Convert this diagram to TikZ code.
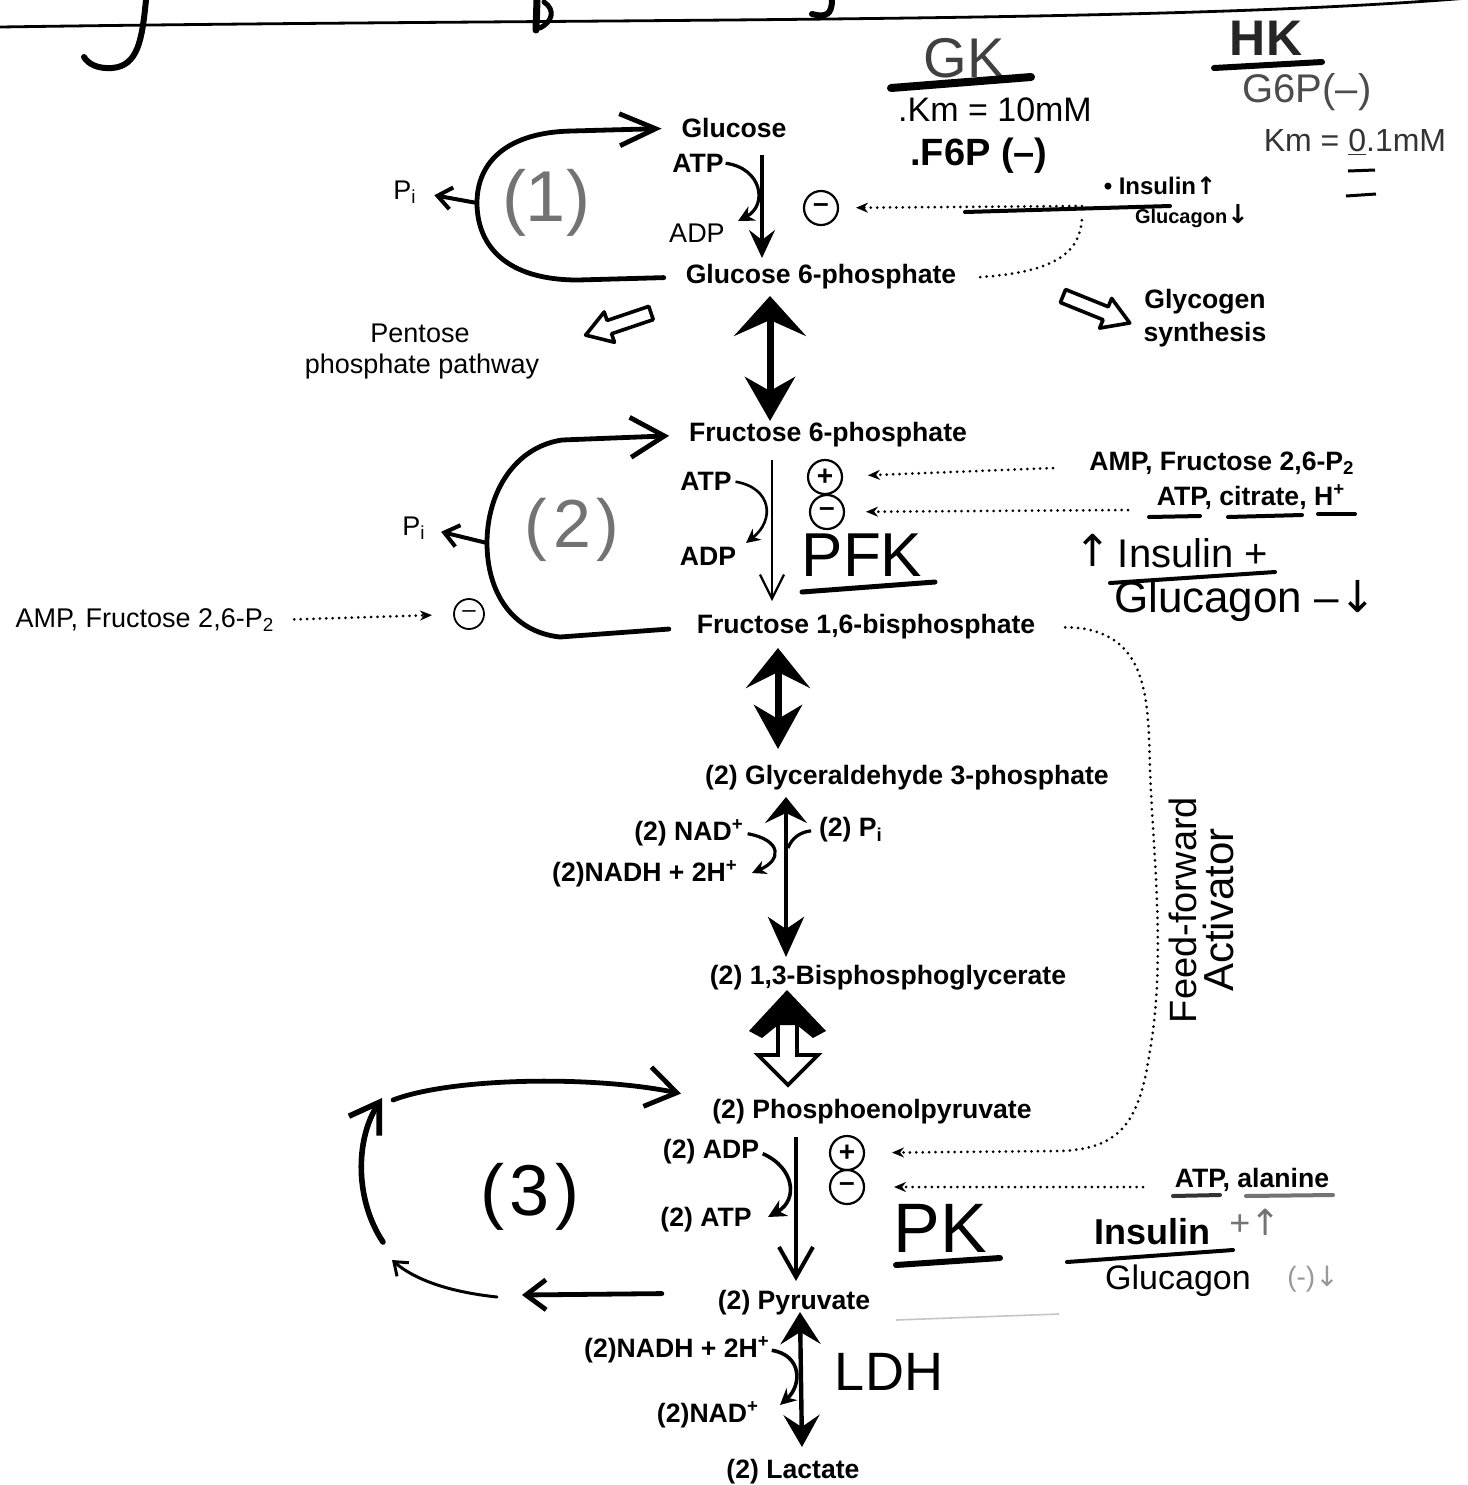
\documentclass[tikz,border=0pt]{standalone}
\usepackage{fontspec}
\setmainfont{Liberation Sans}
\newfontfamily\dejavu{DejaVu Sans}
\usetikzlibrary{arrows.meta}
\begin{document}
\begin{tikzpicture}[x=0.5pt,y=-0.5pt,
  every node/.style={inner sep=0pt, outer sep=0pt},
  lab/.style={font=\fontsize{13.3}{15}\selectfont\bfseries},
  labr/.style={font=\fontsize{13.5}{15}\selectfont},
  hand/.style={font=\fontsize{#1}{#1}\selectfont},
  handb/.style={font=\fontsize{#1}{#1}\selectfont\bfseries},
  circ/.style={circle, draw, line width=1.1pt, minimum size=17pt, inner sep=0pt, font=\fontsize{14}{14}\selectfont\bfseries},
  dotline/.style={line width=1.5pt, dash pattern=on 0pt off 3.2pt, line cap=round},
  dottip/.style={-{Stealth[length=6pt,width=5pt]}},
  loopline/.style={line width=2.4pt, line cap=round},
  bigdbl/.style={line width=3.5pt},
  hollow/.style={line width=1.8pt, fill=white, line join=round},
  uline/.style={line width=2pt, line cap=round},
]
\fill[white] (0,0) rectangle (1468,1485);
\useasboundingbox (0,0) rectangle (1468,1485);

% ---- top rule and cut-off title strokes
\draw[line width=1.4pt] (0,27) .. controls (600,18) and (1150,24) .. (1468,-2);
\draw[line width=3pt, line cap=round] (146,0) .. controls (142,40) and (138,66) .. (112,68) .. controls (98,69) and (88,64) .. (84,57);
\draw[line width=3.5pt, line cap=round] (537,0) -- (536,30);
\draw[line width=2.5pt, line cap=round] (544,2) .. controls (556,10) and (552,22) .. (540,28);
\draw[line width=3pt, line cap=round] (832,0) .. controls (832,14) and (826,18) .. (812,14);

% ---- GK / HK annotations
\node[hand=28, text=black!75] (gk) at (964,58) {GK};
\draw[line width=4pt, line cap=round] (891,88) -- (1031,77);
\node[handb=25, text=black!85] (hk) at (1266,38) {HK};
\draw[line width=3pt, line cap=round] (1214,68) -- (1322,62);
\node[hand=20, text=black!70] (g6pn) at (1307,92) {G6P(–)};
\node[hand=17] (km10) at (995,110) {.Km = 10mM};
\node[handb=19] (f6pn) at (979,156) {.F6P (–)};
\node[hand=16, text=black!80] (km01) at (1355,142) {Km = \underline{0}.1mM};
\draw[line width=1.5pt] (1348,171) -- (1375,170);
\draw[line width=1.5pt] (1346,196) -- (1376,194);
\node[handb=12] (ins1) at (1160,186) {• Insulin{\dejavu↑}};
\draw[uline] (965,212) -- (1170,206);
\node[handb=10] (glu1) at (1192,216) {Glucagon{\dejavu\fontsize{13}{13}\selectfont↓}};

% ---- step 1
\node[lab] (glc) at (734,128) {Glucose};
\node[lab] (atp1) at (698,163) {ATP};
\node[labr] (adp1) at (697,233) {ADP};
\node[lab] (g6p) at (821,277) {Glucose 6-phosphate};
\coordinate (a1s) at (762,155);
\coordinate (a1e) at (762,258);
\draw[line width=1.8pt, -{Stealth[length=14pt,width=13pt,inset=5pt]}] (a1s) -- (a1e);
\draw[line width=1.6pt, -{Stealth[length=8pt,width=8pt]}, shorten <=1pt] (atp1.east) .. controls (762,168) and (768,205) .. (738,221);
\node[circ] (m1) at (821,208) {–};
\coordinate (d1s) at (1082,206);
\draw[dotline, dottip, shorten >=9pt] (d1s) -- (m1);
\draw[dotline] ([xshift=12pt]g6p.east) .. controls (1060,272) and (1082,250) .. (1082,214);

\draw[loopline, shorten <=11pt, shorten >=10pt, -{Straight Barb[length=18pt,width=16pt]}] (g6p.west) -- (578,280) .. controls (505,280) and (478,245) .. (477,205) .. controls (476,160) and (510,132) .. (572,131) -- (glc.west);
\node[labr] (pi1) at (405,192) {P\textsubscript{i}};
\coordinate (pi1s) at (477,203);
\draw[line width=2pt, shorten >=9pt, -{Straight Barb[length=7pt,width=11pt]}] (pi1s) -- (pi1.east);
\node[hand=36, text=black!55] (n1) at (546,203) {(1)};

% pentose / glycogen outlets
\node[labr] (ppp1) at (420,333) {Pentose};
\node[labr] (ppp2) at (422,367) {phosphate pathway};
\begin{scope}[shift={(651,313)}, rotate=198.7]
  \draw[hollow] (0,-7) -- (44,-7) -- (44,-16) -- (69,0) -- (44,16) -- (44,7) -- (0,7) -- cycle;
\end{scope}
\node[lab] (gly1) at (1205,302) {Glycogen};
\node[lab] (gly2) at (1205,335) {synthesis};
\begin{scope}[shift={(1063,296)}, rotate=-22]
  \draw[hollow] (0,-7) -- (46,-7) -- (46,-16) -- (72,0) -- (46,16) -- (46,7) -- (0,7) -- cycle;
\end{scope}

% G6P <-> F6P
\coordinate (da1t) at (770,296);
\coordinate (da1b) at (770,421);
\draw[bigdbl, {Stealth[length=20pt,width=36pt,inset=8pt]}-{Stealth[length=22pt,width=25pt,inset=7pt]}] (da1t) -- (da1b);

% ---- step 2
\node[lab] (f6p) at (828,435) {Fructose 6-phosphate};
\node[lab] (atp2) at (706,481) {ATP};
\node[lab] (adp2) at (708,556) {ADP};
\coordinate (a2s) at (772,460);
\coordinate (a2e) at (772,601);
\draw[line width=1.1pt, -{Straight Barb[length=12pt,width=12pt]}] (a2s) -- (a2e);
\draw[line width=1.3pt, -{Stealth[length=7pt,width=7pt]}, shorten <=2pt] (atp2.east) .. controls (772,488) and (775,520) .. (746,543);
\node[circ] (p2) at (825,477) {+};
\node[circ] (m2) at (827,512) {–};
\node[lab] (amp1) at (1222,463) {AMP, Fructose 2,6-P\textsubscript{2}};
\node[lab] (atpc) at (1251,497) {ATP, citrate, H\textsuperscript{+}};
\draw[uline] (1149,517) -- (1200,516);
\draw[uline] (1228,517) -- (1302,515);
\draw[uline] (1318,514) -- (1355,514);
\coordinate (d2s) at (1053,468);
\coordinate (d3s) at (1128,510);
\draw[dotline, dottip, shorten >=13pt] (d2s) -- (p2);
\draw[dotline, dottip, shorten >=11pt] (d3s) -- (m2);
\node[hand=22] (up2) at (1093,550) {\dejavu↑};
\node[hand=20] (ins2) at (1193,553) {Insulin +};
\draw[uline] (1110,583) -- (1275,572);
\node[hand=22] (glu2) at (1245,601) {Glucagon –{\dejavu↓}};
\node[hand=31] (pfk) at (862,555) {PFK};
\draw[line width=2.5pt, line cap=round] (802,592) -- (935,582);

\node[labr] (amp2) at (145,620) {AMP, Fructose 2,6-P\textsubscript{2}};
\node[circ, line width=0.9pt, minimum size=15pt, font=\fontsize{12}{12}\selectfont] (m3) at (469,614) {–};
\draw[dotline, dottip, shorten <=10pt, shorten >=11pt] (amp2.east) -- (m3);

\node[lab] (f16) at (866,627) {Fructose 1,6-bisphosphate};
\draw[loopline, shorten <=14pt, shorten >=10pt, -{Straight Barb[length=17pt,width=20pt]}] (f16.west) -- (560,637) .. controls (512,632) and (487,592) .. (487,543) .. controls (487,492) and (515,447) .. (562,440) -- (f6p.west);
\node[labr] (pi2) at (414,528) {P\textsubscript{i}};
\coordinate (pi2s) at (487,543);
\draw[line width=2pt, shorten >=8pt, -{Straight Barb[length=7pt,width=11pt]}] (pi2s) -- (pi2.east);
\node[hand=34, text=black!55] (n2) at (572,530) {(\kern3pt2\kern3pt)};

% F16BP <-> G3P
\coordinate (da2t) at (778,648);
\coordinate (da2b) at (778,749);
\draw[bigdbl, {Stealth[length=20pt,width=32pt,inset=8pt]}-{Stealth[length=22pt,width=24pt,inset=7pt]}] (da2t) -- (da2b);

% ---- G3P -> 1,3-BPG
\node[lab] (g3p) at (907,778) {(2) Glyceraldehyde 3-phosphate};
\node[lab] (nad1) at (689,833) {(2) NAD\textsuperscript{+}};
\node[lab] (pi3) at (851,830) {(2) P\textsubscript{i}};
\node[lab] (nadh1) at (645,874) {(2)NADH + 2H\textsuperscript{+}};
\coordinate (da3t) at (786,797);
\coordinate (da3b) at (786,957);
\draw[line width=2.2pt, {Stealth[length=13pt,width=21pt,inset=5pt]}-{Stealth[length=20pt,width=18pt,inset=6pt]}] (da3t) -- (da3b);
\draw[line width=1.6pt, -{Stealth[length=7pt,width=7pt]}, shorten <=2pt] (nad1.east) .. controls (782,840) and (782,860) .. (752,873);
\draw[line width=1.6pt, shorten <=4pt] (pi3.west) .. controls (800,832) and (792,838) .. (788,848);
\node[lab] (bpg) at (888,978) {(2) 1,3-Bisphosphoglycerate};

% 1,3-BPG <-> PEP (filled up head, open down head)
\fill (787,990) -- (826,1031) -- (813,1038) -- (797,1025) -- (778,1025) -- (762,1038) -- (749,1031) -- cycle;
\draw[line width=1.8pt, line join=miter] (778,1024) -- (778,1055) -- (758,1055) -- (788,1085) -- (818,1055) -- (797,1055) -- (797,1024);

% ---- step 3
\node[lab] (pep) at (872,1112) {(2) Phosphoenolpyruvate};
\node[lab] (adp3) at (711,1152) {(2) ADP};
\node[lab] (atp3) at (706,1220) {(2) ATP};
\coordinate (a3s) at (796,1137);
\coordinate (a3e) at (796,1281);
\draw[line width=2pt, -{Straight Barb[length=15pt,width=17pt]}] (a3s) -- (a3e);
\draw[line width=1.8pt, -{Stealth[length=9pt,width=9pt]}, shorten <=2pt] (adp3.east) .. controls (795,1168) and (798,1200) .. (768,1217);
\node[circ] (p4) at (847,1153) {+};
\node[circ] (m4) at (847,1187) {–};
\draw[dotline, dottip, shorten <=15pt, shorten >=14pt] (f16.east) .. controls (1150,628) and (1148,700) .. (1150,770) .. controls (1153,850) and (1166,960) .. (1150,1050) .. controls (1140,1120) and (1122,1149) .. (1060,1151) -- (p4);
\coordinate (d4s) at (1143,1187);
\draw[dotline, dottip, shorten >=15pt] (d4s) -- (m4);
\node[lab] (atpala) at (1252,1180) {ATP, alanine};
\draw[uline, black!80] (1173,1196) -- (1220,1195);
\draw[uline, black!55] (1246,1196) -- (1333,1195);
\node[hand=35] (pk) at (940,1228) {PK};
\draw[line width=3pt, line cap=round] (896,1265) -- (1000,1258);
\node[handb=18] (ins3) at (1152,1232) {Insulin};
\node[hand=18, text=black!55] (ins3b) at (1255,1222) {+{\dejavu↑}};
\draw[uline] (1067,1262) -- (1233,1250);
\node[hand=17] (glu3) at (1178,1281) {Glucagon};
\node[hand=14, text=black!40] (glu3b) at (1313,1279) {(-){\dejavu↓}};
\draw[gray!45, line width=0.8pt] (896,1320) -- (1059,1314);

\node[hand=19, rotate=90] (ff) at (1183,910) {Feed-forward};
\node[hand=21, rotate=90] (act) at (1218,910) {Activator};

% loop 3
\coordinate (l3a) at (393,1100);
\draw[loopline, shorten >=16pt, -{Straight Barb[length=15pt,width=20pt]}] (l3a) .. controls (450,1078) and (590,1075) .. ([yshift=6pt]pep.west);
\coordinate (l3b) at (383,1242);
\coordinate (l3c) at (382,1098);
\draw[line width=2.8pt, line cap=round, -{Straight Barb[length=14pt,width=18pt]}] (l3b) .. controls (355,1200) and (355,1140) .. (l3c);
\coordinate (l3d) at (497,1297);
\coordinate (l3e) at (392,1260);
\draw[line width=1.5pt, line cap=round, -{Straight Barb[length=6pt,width=9pt]}] (l3d) .. controls (450,1292) and (415,1280) .. (l3e);
\node[lab] (pyr) at (794,1303) {(2) Pyruvate};
\coordinate (l3f) at (522,1295);
\draw[loopline, shorten <=28pt, -{Straight Barb[length=10pt,width=15pt]}] ([yshift=5pt]pyr.west) -- (l3f);
\node[hand=36] (n3) at (530,1197) {(\kern3pt3\kern3pt)};

% ---- pyruvate <-> lactate
\node[lab] (nadh2) at (677,1350) {(2)NADH + 2H\textsuperscript{+}};
\node[lab] (nad2) at (708,1415) {(2)NAD\textsuperscript{+}};
\coordinate (da4t) at (800,1312);
\coordinate (da4b) at (802,1447);
\draw[line width=2.2pt, {Stealth[length=16pt,width=20pt,inset=6pt]}-{Stealth[length=16pt,width=18pt,inset=6pt]}] (da4t) -- (da4b);
\draw[line width=1.8pt, -{Stealth[length=8pt,width=8pt]}, shorten <=1pt] (nadh2.east) .. controls (802,1355) and (802,1385) .. (780,1405);
\node[hand=27] (ldh) at (889,1372) {LDH};
\node[lab] (lac) at (793,1472) {(2) Lactate};
\end{tikzpicture}
\end{document}
